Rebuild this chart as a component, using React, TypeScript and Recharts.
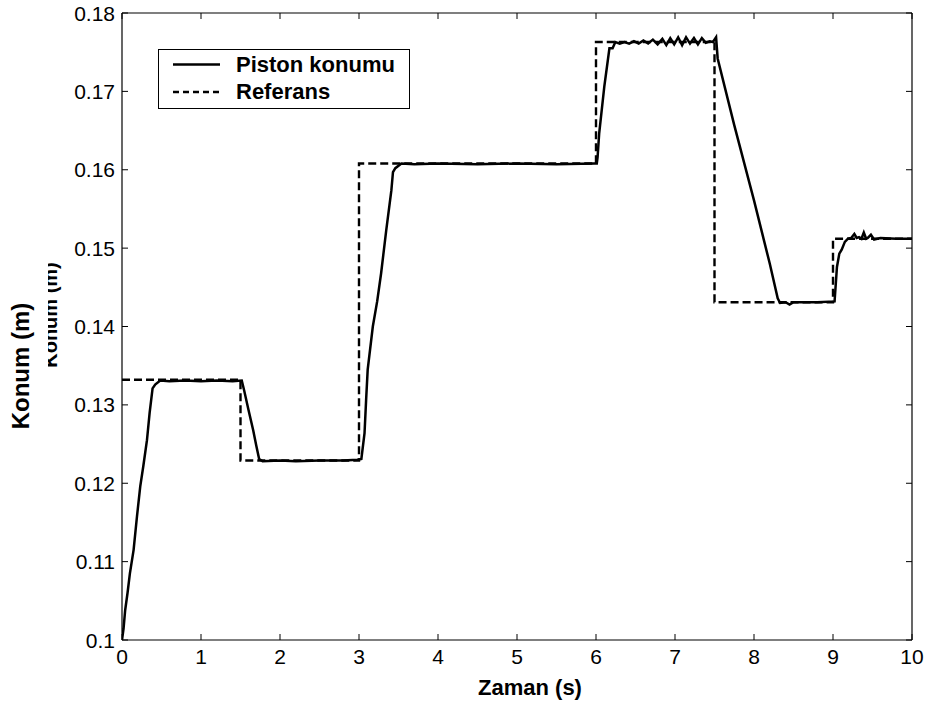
import React from 'react';
import { LineChart, Line, XAxis, YAxis, ReferenceLine } from 'recharts';

const xTicks = [0, 1, 2, 3, 4, 5, 6, 7, 8, 9, 10];
const yTicks = [0.1, 0.11, 0.12, 0.13, 0.14, 0.15, 0.16, 0.17, 0.18];
const yTickLabels = ['0.1', '0.11', '0.12', '0.13', '0.14', '0.15', '0.16', '0.17', '0.18'];

const refTimes = [0, 1.5, 1.5, 3, 3, 6, 6, 7.5, 7.5, 9, 9, 10];
const refValues = [0.1332, 0.1332, 0.1229, 0.1229, 0.1608, 0.1608, 0.1763, 0.1763, 0.1431, 0.1431, 0.1512, 0.1512];

const pistonTimes = [
  0, 0.02, 0.04, 0.07, 0.1, 0.147, 0.19, 0.231, 0.27, 0.316, 0.35, 0.387, 0.42, 0.484, 0.6, 0.8, 1.0, 1.2, 1.4, 1.516,
  1.545, 1.6, 1.66, 1.7, 1.736, 1.78, 2.0, 2.2, 2.5, 2.8, 2.98, 3.03, 3.07, 3.09, 3.11, 3.175, 3.23, 3.28, 3.345, 3.41,
  3.43, 3.46, 3.537, 3.7, 4.0, 4.5, 5.0, 5.5, 5.98, 6.01, 6.02, 6.04, 6.105, 6.17, 6.21, 6.245, 6.3, 6.36, 6.42, 6.48,
  6.54, 6.6, 6.66, 6.72, 6.78, 6.84, 6.89, 6.94, 6.99, 7.04, 7.09, 7.14, 7.19, 7.24, 7.29, 7.34, 7.39, 7.44, 7.48, 7.52,
  7.54, 7.75, 8.0, 8.2, 8.3, 8.33, 8.4, 8.45, 8.5, 8.8, 9.02, 9.05, 9.08, 9.11, 9.15, 9.19, 9.23, 9.27, 9.3, 9.33,
  9.36, 9.39, 9.42, 9.44, 9.48, 9.52, 9.6, 9.8, 10,
];
const pistonValues = [
  0.1, 0.1015, 0.1038, 0.106, 0.1085, 0.1115, 0.1158, 0.1196, 0.1222, 0.1255, 0.129, 0.1321, 0.1326, 0.1331, 0.133, 0.1331, 0.133, 0.1331, 0.133, 0.1331,
  0.1319, 0.1294, 0.1268, 0.1248, 0.1231, 0.1228, 0.1229, 0.1228, 0.1229, 0.1229, 0.123, 0.1231, 0.1264, 0.1306, 0.1345, 0.14, 0.1432, 0.1468, 0.1523, 0.1574,
  0.1597, 0.1602, 0.1608, 0.1607, 0.1608, 0.1607, 0.1608, 0.1607, 0.1608, 0.1608, 0.1616, 0.1646, 0.1706, 0.1755, 0.1755, 0.1763, 0.1761, 0.1763, 0.1761, 0.1764,
  0.1761, 0.1765, 0.1761, 0.1766, 0.176, 0.1767, 0.1759, 0.1768, 0.176, 0.1769, 0.1759, 0.1769, 0.1761, 0.1768, 0.176, 0.1768, 0.1762, 0.1764, 0.1763, 0.1769,
  0.1742, 0.1657, 0.1561, 0.148, 0.1436, 0.143, 0.1431, 0.1428, 0.1431, 0.1431, 0.1432, 0.1476, 0.1493, 0.1498, 0.1508, 0.1512, 0.1513, 0.1518, 0.1513, 0.1514,
  0.1512, 0.152, 0.1512, 0.1513, 0.1517, 0.1511, 0.1513, 0.1512, 0.1512,
];

const legendLabels = ['Piston konumu', 'Referans'];
const xTitle = 'Zaman (s)';
const yTitle = 'Konum (m)';

const refData = refTimes.map((t, i) => ({ t, v: refValues[i] }));
const pistonData = pistonTimes.map((t, i) => ({ t, v: pistonValues[i] }));

const FONT = 'Liberation Sans, Arial, Helvetica, sans-serif';
const TICK = 6;
const W = 926;
const H = 702;
const M = { top: 13, right: 14, bottom: 0, left: 0 };
const YW = 122;
const XH = 62;
const PLOT_W = W - M.right - YW;
const PLOT_H = H - M.top - XH;

const BottomTick = (props: any) => {
  const { x, y, payload } = props;
  return (
    <g>
      <line x1={x} y1={y} x2={x} y2={y - TICK} stroke="#000" strokeWidth={1} />
      <line x1={x} y1={y - PLOT_H} x2={x} y2={y - PLOT_H + TICK} stroke="#000" strokeWidth={1} />
      <text x={x} y={y + 24} textAnchor="middle" fontFamily={FONT} fontSize={21} fill="#000">
        {String(payload.value)}
      </text>
    </g>
  );
};

const LeftTick = (props: any) => {
  const { x, y, payload } = props;
  const label = yTickLabels[yTicks.indexOf(payload.value)] ?? String(payload.value);
  return (
    <g>
      <line x1={x} y1={y} x2={x + TICK} y2={y} stroke="#000" strokeWidth={1} />
      <line x1={x + PLOT_W} y1={y} x2={x + PLOT_W - TICK} y2={y} stroke="#000" strokeWidth={1} />
      <text x={x - 7} y={y} dy="0.36em" textAnchor="end" fontFamily={FONT} fontSize={21} fill="#000">
        {label}
      </text>
    </g>
  );
};

const XTitle = (props: any) => {
  const vb = props.viewBox;
  return (
    <text x={vb.x + vb.width / 2 + 13} y={vb.y + 55} textAnchor="middle" fontFamily={FONT} fontWeight="bold" fontSize={22} fill="#000">
      {xTitle}
    </text>
  );
};

const YTitle = () => {
  return (
    <g>
      <defs>
        <clipPath id="ghostClip" clipPathUnits="userSpaceOnUse">
          <rect x={48} y={200} width={20} height={250} />
        </clipPath>
      </defs>
      <g clipPath="url(#ghostClip)">
        <text
          x={0}
          y={0}
          transform="translate(57,315) rotate(-90)"
          textAnchor="middle"
          fontFamily={FONT}
          fontWeight="bold"
          fontSize={20}
          fill="#000"
        >
          {yTitle}
        </text>
      </g>
      <text
        x={0}
        y={0}
        transform="translate(28.5,366) rotate(-90)"
        textAnchor="middle"
        fontFamily={FONT}
        fontWeight="bold"
        fontSize={24}
        fill="#000"
      >
        {yTitle}
      </text>
    </g>
  );
};

const LegendBox = () => (
  <div
    style={{
      position: 'absolute',
      left: 158,
      top: 49,
      width: 250,
      height: 58,
      border: '1.5px solid #000',
      background: '#fff',
      fontFamily: FONT,
      fontWeight: 'bold',
      fontSize: 22,
      color: '#000',
    }}
  >
    <svg width={70} height={58} style={{ position: 'absolute', left: 0, top: 0 }}>
      <line x1={14} y1={14.5} x2={61} y2={14.5} stroke="#000" strokeWidth={2.5} />
      <line x1={14} y1={42} x2={61} y2={42} stroke="#000" strokeWidth={2.4} strokeDasharray="6 4" />
    </svg>
    <div style={{ position: 'absolute', left: 77, top: 2, lineHeight: '25px', whiteSpace: 'nowrap' }}>{legendLabels[0]}</div>
    <div style={{ position: 'absolute', left: 77, top: 29, lineHeight: '25px', whiteSpace: 'nowrap' }}>{legendLabels[1]}</div>
  </div>
);

export default function App() {
  return (
    <div style={{ position: 'fixed', left: 0, top: 0, width: W, height: H, background: '#fff', overflow: 'hidden' }}>
      <LineChart width={W} height={H} margin={M}>
        <XAxis
          xAxisId="b"
          dataKey="t"
          type="number"
          domain={[0, 10]}
          ticks={xTicks}
          height={XH}
          tickLine={false}
          tickSize={0}
          tickMargin={0}
          tick={<BottomTick />}
          axisLine={{ stroke: '#000', strokeWidth: 1.2 }}
          interval={0}
          allowDataOverflow
          label={<XTitle />}
        />
        <YAxis
          yAxisId="l"
          type="number"
          domain={[0.1, 0.18]}
          ticks={yTicks}
          width={YW}
          tickLine={false}
          tickSize={0}
          tickMargin={0}
          tick={<LeftTick />}
          axisLine={{ stroke: '#000', strokeWidth: 1.2 }}
          interval={0}
          allowDataOverflow
          label={<YTitle />}
        />
        <ReferenceLine xAxisId="b" yAxisId="l" y={0.18} stroke="#000" strokeWidth={1.2} />
        <ReferenceLine xAxisId="b" yAxisId="l" x={10} stroke="#000" strokeWidth={1.2} />
        <Line
          xAxisId="b"
          yAxisId="l"
          data={refData}
          dataKey="v"
          name="Referans"
          type="linear"
          stroke="#000"
          strokeWidth={2.4}
          strokeDasharray="8 4"
          dot={false}
          activeDot={false}
          isAnimationActive={false}
        />
        <Line
          xAxisId="b"
          yAxisId="l"
          data={pistonData}
          dataKey="v"
          name="Piston konumu"
          type="linear"
          stroke="#000"
          strokeWidth={2.5}
          dot={false}
          activeDot={false}
          isAnimationActive={false}
        />
      </LineChart>
      <LegendBox />
    </div>
  );
}
